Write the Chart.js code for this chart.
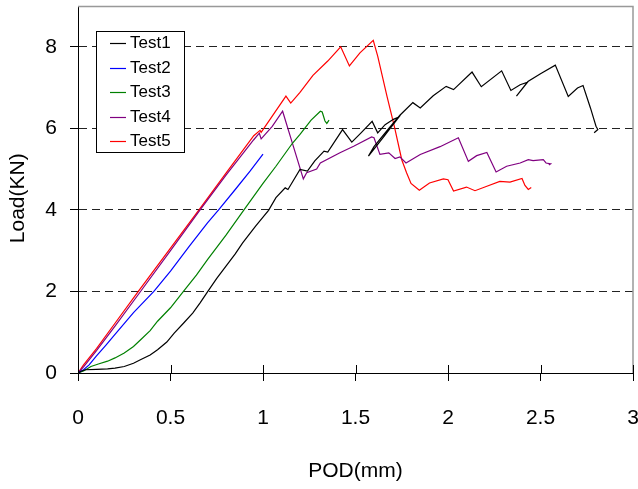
<!DOCTYPE html>
<html>
<head>
<meta charset="utf-8">
<script src="https://cdn.jsdelivr.net/npm/chart.js@4.4.0/dist/chart.umd.min.js"></script>
<style>
  html, body { margin: 0; padding: 0; background: #fff; }
  #wrap { width: 638px; height: 489px; }
</style>
</head>
<body>
<div id="wrap"><canvas id="podChart" width="638" height="489"></canvas></div>
<script>
// POD (mm) vs Load (KN)
const test1X = [0, 0.02, 0.04, 0.10, 0.16, 0.20, 0.25, 0.30, 0.34, 0.39, 0.43, 0.48, 0.52, 0.57, 0.62, 0.66, 0.70, 0.75, 0.80, 0.85, 0.89, 0.96, 1.03, 1.07, 1.12, 1.135, 1.20, 1.24, 1.28, 1.33, 1.35, 1.43, 1.48, 1.53, 1.59, 1.62, 1.66, 1.705, 1.735,
  1.65, 1.57, 1.60, 1.68, 1.74, 1.81, 1.85, 1.92, 1.99, 2.03, 2.13, 2.18, 2.29, 2.34, 2.39, 2.43, 2.37, 2.432, 2.50, 2.58, 2.65, 2.70, 2.73, 2.77, 2.80, 2.81, 2.79];
const test1Y = [0, 0.05, 0.08, 0.09, 0.10, 0.12, 0.16, 0.24, 0.33, 0.44, 0.57, 0.76, 0.98, 1.22, 1.47, 1.72, 1.99, 2.32, 2.62, 2.92, 3.19, 3.60, 3.99, 4.30, 4.54, 4.50, 4.99, 4.95, 5.20, 5.44, 5.42, 5.97, 5.66, 5.89, 6.17, 5.89, 6.09, 6.22, 6.28,
  5.78, 5.32, 5.55, 6.00, 6.32, 6.63, 6.50, 6.80, 7.03, 6.95, 7.38, 7.02, 7.41, 6.93, 7.07, 7.13, 6.79, 7.15, 7.34, 7.55, 6.78, 6.99, 7.05, 6.50, 6.05, 5.97, 5.89];

const test2X = [0, 0.03, 0.06, 0.10, 0.15, 0.20, 0.30, 0.41, 0.50, 0.60, 0.70, 0.76, 0.85, 0.93, 1.00];
const test2Y = [0, 0.08, 0.20, 0.42, 0.68, 0.95, 1.48, 2.00, 2.50, 3.10, 3.68, 4.00, 4.50, 4.95, 5.37];

const test3X = [0, 0.03, 0.07, 0.11, 0.16, 0.20, 0.25, 0.30, 0.34, 0.39, 0.43, 0.50, 0.57, 0.64, 0.70, 0.80, 0.90, 1.00, 1.07, 1.16, 1.20, 1.26, 1.31, 1.32, 1.335, 1.345, 1.357];
const test3Y = [0, 0.05, 0.16, 0.22, 0.29, 0.37, 0.49, 0.65, 0.82, 1.04, 1.27, 1.60, 2.00, 2.40, 2.78, 3.38, 4.02, 4.65, 5.07, 5.64, 5.85, 6.20, 6.42, 6.40, 6.18, 6.12, 6.20];

const test4X = [0, 0.03, 0.10, 0.20, 0.33, 0.50, 0.66, 0.80, 0.95, 0.98, 0.99, 1.05, 1.106, 1.16, 1.218, 1.236, 1.29, 1.31, 1.416, 1.49, 1.587, 1.60, 1.632, 1.68, 1.714, 1.74, 1.773,
  1.85, 1.957, 2.056, 2.11, 2.155, 2.21, 2.26, 2.317, 2.39, 2.434, 2.46, 2.515, 2.53, 2.555, 2.545];
const test4Y = [0, 0.15, 0.55, 1.15, 1.95, 3.00, 4.00, 4.85, 5.72, 5.88, 5.74, 6.05, 6.42, 5.62, 4.76, 4.91, 5.00, 5.15, 5.40, 5.56, 5.79, 5.77, 5.36, 5.40, 5.26, 5.30, 5.15,
  5.36, 5.55, 5.77, 5.19, 5.33, 5.41, 4.93, 5.07, 5.15, 5.23, 5.21, 5.23, 5.15, 5.13, 5.10];

const test5X = [0, 0.03, 0.10, 0.20, 0.326, 0.50, 0.654, 0.80, 0.95, 0.984, 0.99, 1.05, 1.124, 1.15, 1.20, 1.27, 1.35, 1.42, 1.467, 1.524, 1.596, 1.62, 1.67, 1.71, 1.75, 1.776, 1.80,
  1.845, 1.90, 1.975, 2.00, 2.03, 2.10, 2.146, 2.21, 2.28, 2.335, 2.40, 2.416, 2.434, 2.45];
const test5Y = [0, 0.20, 0.60, 1.22, 2.00, 3.06, 4.00, 4.90, 5.82, 5.95, 5.90, 6.30, 6.79, 6.62, 6.88, 7.30, 7.65, 8.00, 7.53, 7.85, 8.16, 7.77, 6.79, 6.05, 5.23, 4.91, 4.65,
  4.48, 4.66, 4.76, 4.74, 4.46, 4.56, 4.47, 4.58, 4.70, 4.68, 4.77, 4.60, 4.50, 4.55];

const seriesNames = ["Test1", "Test2", "Test3", "Test4", "Test5"];
const seriesColors = ["#000000", "#0000ff", "#008000", "#800080", "#ff0000"];
const seriesX = [test1X, test2X, test3X, test4X, test5X];
const seriesY = [test1Y, test2Y, test3Y, test4Y, test5Y];

const fontFamily = "'Liberation Sans', Arial, sans-serif";
Chart.defaults.font.family = fontFamily;
Chart.defaults.color = "#000";

const toPoints = (xs, ys) => xs.map((x, i) => ({ x: x, y: ys[i] }));

// gray frame on top/right, tick marks crossing the x axis
const plotFrame = {
    id: "plotFrame",
    afterDraw(chart) {
        const { ctx, chartArea } = chart;
        const xs = chart.scales.x;
        ctx.save();
        ctx.strokeStyle = "#999";
        ctx.lineWidth = 1.5;
        ctx.beginPath();
        ctx.moveTo(chartArea.left, chartArea.top + 0.5);
        ctx.lineTo(chartArea.right, chartArea.top + 0.5);
        ctx.lineTo(chartArea.right, chartArea.bottom);
        ctx.stroke();

        ctx.strokeStyle = "#000";
        ctx.lineWidth = 1;
        ctx.beginPath();
        xs.ticks.forEach((t) => {
            const px = Math.round(xs.getPixelForValue(t.value)) + 0.5;
            ctx.moveTo(px, chartArea.bottom - 8);
            ctx.lineTo(px, chartArea.bottom);
        });
        ctx.stroke();
        ctx.restore();
    },
};

// boxed legend inside the plot
const boxLegend = {
    id: "boxLegend",
    afterDraw(chart) {
        const { ctx, chartArea } = chart;
        const x0 = chartArea.left + 18;
        const y0 = chartArea.top + 25;
        const w = 88, h = 121, rowH = 24.6;
        ctx.save();
        ctx.fillStyle = "#fff";
        ctx.fillRect(x0, y0, w, h);
        ctx.strokeStyle = "#000";
        ctx.lineWidth = 1;
        ctx.strokeRect(x0 + 0.5, y0 + 0.5, w, h);
        ctx.font = "17px " + fontFamily;
        ctx.textBaseline = "middle";
        ctx.textAlign = "left";
        seriesNames.forEach((name, i) => {
            const cy = Math.round(y0 + 12 + i * rowH) + 0.5;
            ctx.strokeStyle = seriesColors[i];
            ctx.lineWidth = 1.2;
            ctx.beginPath();
            ctx.moveTo(x0 + 14, cy);
            ctx.lineTo(x0 + 30, cy);
            ctx.stroke();
            ctx.fillStyle = "#000";
            ctx.fillText(name, x0 + 34, cy);
        });
        ctx.restore();
    },
};

const ctx = document.getElementById("podChart").getContext("2d");

window.podChart = new Chart(ctx, {
    type: "scatter",
    data: {
        datasets: seriesNames.map((name, i) => ({
            label: name,
            data: toPoints(seriesX[i], seriesY[i]),
            showLine: true,
            borderColor: seriesColors[i],
            borderWidth: 1.2,
            pointRadius: 0,
            tension: 0,
            fill: false,
        })),
    },
    options: {
        responsive: false,
        animation: false,
        devicePixelRatio: 1,
        layout: {
            padding: { left: 0, right: 5, top: 6, bottom: 0 },
        },
        plugins: {
            legend: { display: false },
            tooltip: { enabled: false },
        },
        scales: {
            x: {
                type: "linear",
                min: 0,
                max: 3,
                ticks: {
                    stepSize: 0.5,
                    padding: 25,
                    color: "#000",
                    font: { size: 21 },
                    callback: (v) => String(Number(v.toFixed(2))),
                },
                grid: {
                    drawOnChartArea: false,
                    tickLength: 8,
                    tickColor: "#000",
                },
                border: { color: "#000", width: 1 },
                title: {
                    display: true,
                    text: "POD(mm)",
                    color: "#000",
                    font: { size: 21 },
                    padding: { top: 0, bottom: 5 },
                },
                afterFit: (scale) => {
                    scale.height = 116;
                    scale.paddingLeft = 0;
                    scale.paddingRight = 0;
                },
            },
            y: {
                type: "linear",
                min: 0,
                max: 9,
                ticks: {
                    stepSize: 2,
                    includeBounds: false,
                    padding: 13,
                    color: "#000",
                    font: { size: 21 },
                },
                grid: {
                    color: (c) => (c.tick && c.tick.value === 0 ? "rgba(0,0,0,0)" : "#222"),
                    tickColor: "#000",
                    tickLength: 8,
                    tickBorderDash: [],
                },
                border: { color: "#000", width: 1, dash: [8, 5] },
                title: {
                    display: true,
                    text: "Load(KN)\u00a0\u00a0\u00a0",
                    color: "#000",
                    font: { size: 21 },
                    padding: { top: 6, bottom: 0 },
                },
                afterFit: (scale) => {
                    scale.width = 78;
                    scale.paddingTop = 0;
                    scale.paddingBottom = 0;
                },
            },
        },
    },
    plugins: [plotFrame, boxLegend],
});
</script>
</body>
</html>
